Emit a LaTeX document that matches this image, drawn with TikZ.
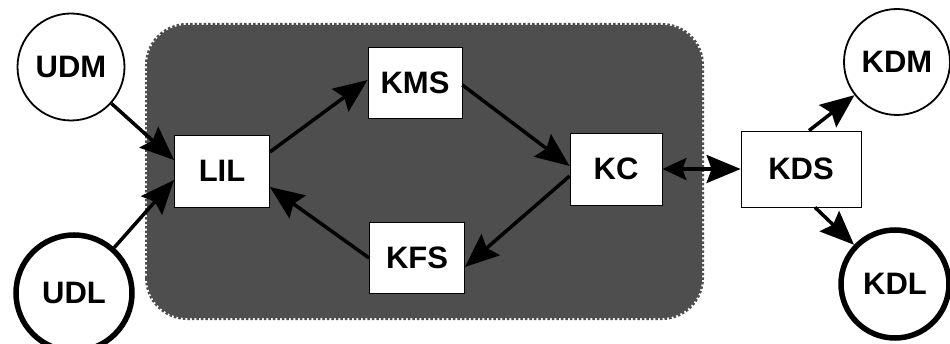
\documentclass[tikz,border=0pt]{standalone}
\usepackage{fontspec}
\setmainfont{Liberation Sans}
\usetikzlibrary{arrows.meta}
\definecolor{regiongray}{RGB}{78,78,78}
\tikzset{
  lbl/.style={font=\bfseries\fontsize{31}{31}\selectfont},
  box/.style={lbl, draw=black, line width=0.8pt, fill=white, inner sep=0pt},
  thincirc/.style={lbl, circle, draw=black, line width=1.8pt, fill=white, inner sep=0pt},
  thickcirc/.style={lbl, circle, draw=black, line width=5.5pt, fill=white, inner sep=0pt},
  conn/.style={line width=3.5pt, -{Stealth[length=34pt,width=28pt,inset=5pt]}},
  biconn/.style={line width=3.5pt,
    {Stealth[length=24pt,width=22pt,inset=4pt]}-{Stealth[length=34pt,width=28pt,inset=5pt]}}
}
\begin{document}
\begin{tikzpicture}[x=1pt,y=1pt]
\useasboundingbox (0,0) rectangle (950,343);
\clip (0,0) rectangle (950,343);
\fill[white] (0,0) rectangle (950,343);

% shaded region holding the inner components, with a toothed rim
\fill[regiongray, rounded corners=40pt] (147,25) rectangle (702,318);
\draw[regiongray, line width=4pt, dash pattern=on 2.5pt off 2pt, rounded corners=40pt]
  (147,25) rectangle (702,318);

% inner components
\node[box, minimum width=95pt, minimum height=72pt] (LIL) at (222,172) {LIL};
\node[box, minimum width=94pt, minimum height=71pt] (KMS) at (415,260) {KMS};
\node[box, minimum width=95pt, minimum height=71pt] (KFS) at (417,85) {KFS};
\node[box, minimum width=92pt, minimum height=72pt] (KC)  at (616,174) {KC};

% outer components
\node[box, minimum width=120pt, minimum height=76pt] (KDS) at (801,174) {KDS};
\node[thincirc, minimum size=107pt] (UDM) at (71,276) {UDM};
\node[thickcirc, minimum size=116pt] (UDL) at (74,50) {UDL};
\node[thincirc, minimum size=106pt] (KDM) at (897,281) {KDM};
\node[thickcirc, minimum size=108pt] (KDL) at (895,59) {KDL};

% connectors
\draw[conn] (UDM) -- ([yshift=11pt]LIL.west);
\draw[conn] (UDL) -- ([yshift=-9pt]LIL.west);
\draw[conn] ([yshift=19pt]LIL.east) -- ([yshift=3pt]KMS.west);
\draw[conn] (KFS.west) -- ([yshift=-16pt]LIL.east);
\draw[conn] ([yshift=-2pt]KMS.east) -- ([yshift=3pt]KC.west);
\draw[conn] ([yshift=-7pt]KC.west) -- ([yshift=-9pt]KFS.east);
\draw[biconn] (KC.east) -- (KDS.west);
\draw[conn] ([xshift=8pt]KDS.north) -- (KDM);
\draw[conn] ([xshift=14pt]KDS.south) -- (KDL);
\end{tikzpicture}
\end{document}
